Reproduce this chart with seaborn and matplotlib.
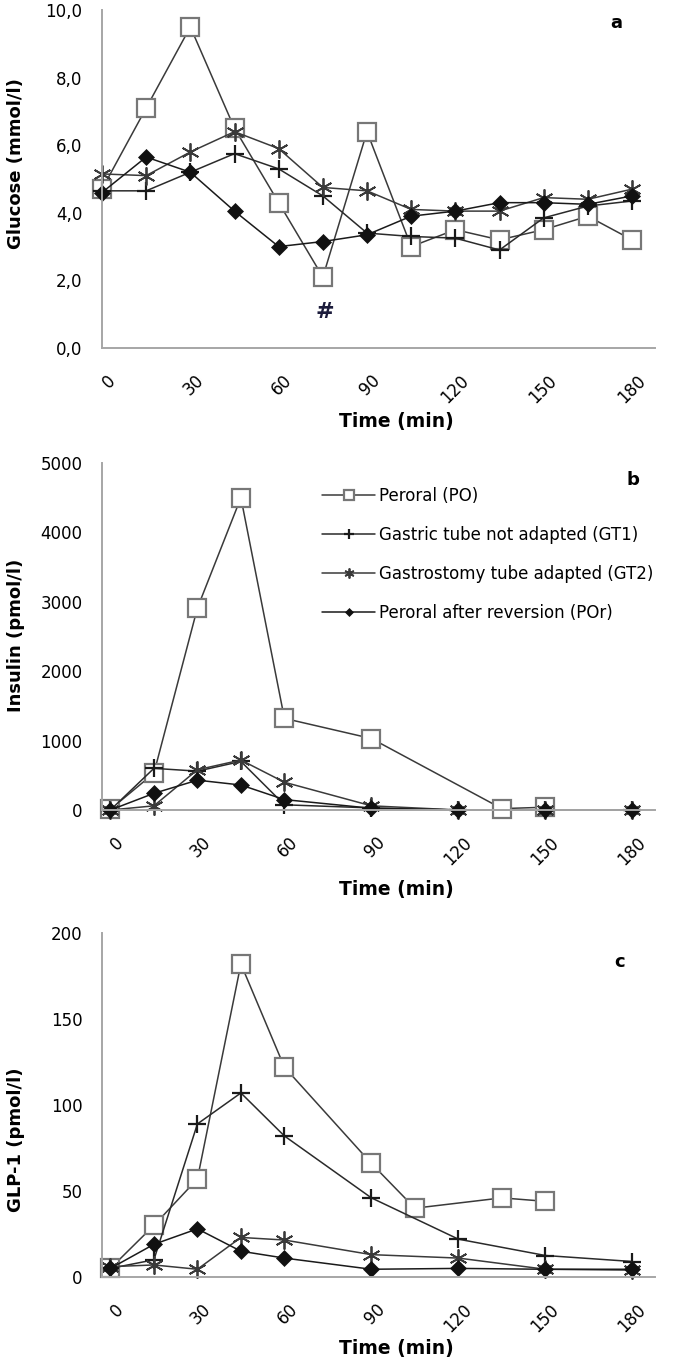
import matplotlib
matplotlib.use("Agg")
import numpy as np
import pandas as pd
import seaborn as sns
import matplotlib.pyplot as plt
from matplotlib.transforms import ScaledTranslation

sns.set_style("white")
plt.rcParams["font.family"] = ["DejaVu Sans"]
plt.rcParams["text.color"] = "black"
plt.rcParams["axes.labelcolor"] = "black"
plt.rcParams["xtick.color"] = "black"
plt.rcParams["ytick.color"] = "black"

# ---------------- data ----------------
series_names = ["Peroral (PO)", "Gastric tube not adapted (GT1)",
                "Gastrostomy tube adapted (GT2)", "Peroral after reversion (POr)"]

# (a) Glucose (mmol/l)
glucose_time = [0, 15, 30, 45, 60, 75, 90, 105, 120, 135, 150, 165, 180]
glucose_po = [4.7, 7.1, 9.5, 6.5, 4.3, 2.1, 6.4, 3.0, 3.5, 3.2, 3.5, 3.9, 3.2]
glucose_gt1 = [4.65, 4.65, 5.2, 5.75, 5.3, 4.5, 3.4, 3.3, 3.25, 2.9, 3.85, 4.2, 4.35]
glucose_gt2 = [5.15, 5.1, 5.8, 6.4, 5.9, 4.75, 4.65, 4.1, 4.05, 4.05, 4.45, 4.4, 4.7]
glucose_por = [4.6, 5.65, 5.2, 4.05, 3.0, 3.15, 3.35, 3.9, 4.05, 4.3, 4.3, 4.25, 4.5]
glucose_ticks = [0, 2, 4, 6, 8, 10]
glucose_ticklabels = ["0,0", "2,0", "4,0", "6,0", "8,0", "10,0"]

# (b) Insulin (pmol/l)
insulin_time_po = [0, 15, 30, 45, 60, 90, 135, 150]
insulin_po = [10, 530, 2910, 4500, 1320, 1030, 20, 40]
insulin_time = [0, 15, 30, 45, 60, 90, 120, 150, 180]
insulin_gt1 = [0, 600, 560, 700, 75, 30, 0, 0, 0]
insulin_gt2 = [0, 60, 580, 720, 400, 60, 0, 0, 0]
insulin_por = [0, 240, 430, 360, 150, 25, 0, 0, 0]
insulin_ticks = [0, 1000, 2000, 3000, 4000, 5000]

# (c) GLP-1 (pmol/l)
glp_time_po = [0, 15, 30, 45, 60, 90, 105, 135, 150]
glp_po = [5, 30, 57, 182, 122, 66, 40, 46, 44]
glp_time = [0, 15, 30, 45, 60, 90, 120, 150, 180]
glp_gt1 = [5, 10, 89, 107, 82, 46, 22, 12.5, 9]
glp_gt2 = [6, 7, 4.5, 23, 21.5, 13, 11, 4.5, 4]
glp_por = [5, 19, 28, 15, 11, 4.5, 5, 4.5, 4.5]
glp_ticks = [0, 50, 100, 150, 200]

time_ticks = [0, 30, 60, 90, 120, 150, 180]

# ---------------- styles ----------------
styles = {
    "PO": dict(marker="s", markersize=12.5, markerfacecolor="white",
               markeredgecolor="#777777", markeredgewidth=1.6, color="#3a3a3a"),
    "GT1": dict(marker="+", markersize=13, markeredgecolor="#1a1a1a",
                markeredgewidth=1.6, color="#2a2a2a"),
    "GT2": dict(marker=(6, 2, 0), markersize=13, markeredgecolor="#3a3a3a",
                markeredgewidth=1.3, color="#3a3a3a"),
    "POr": dict(marker="D", markersize=8, markerfacecolor="#111111",
                markeredgecolor="#111111", markeredgewidth=0.5, color="#1a1a1a"),
}


def draw(ax, t, v, key, label=None):
    sns.lineplot(x=t, y=v, ax=ax, linewidth=1.1, clip_on=False, legend=False,
                 errorbar=None, label=label, **styles[key])


fig = plt.figure(figsize=(6.83, 13.64), dpi=100)
FW, FH = 683, 1364
L, R = 102, 655


def axes_box(top, bottom):
    return [L / FW, 1 - bottom / FH, (R - L) / FW, (bottom - top) / FH]


ax_a = fig.add_axes(axes_box(10, 348))
ax_b = fig.add_axes(axes_box(463, 810))
ax_c = fig.add_axes(axes_box(933, 1277))

# panel a
draw(ax_a, glucose_time, glucose_po, "PO")
draw(ax_a, glucose_time, glucose_gt1, "GT1")
draw(ax_a, glucose_time, glucose_gt2, "GT2")
draw(ax_a, glucose_time, glucose_por, "POr")
ax_a.set_xlim(0, 187.8)
ax_a.set_ylim(0, 10)
ax_a.set_yticks(glucose_ticks)
ax_a.set_yticklabels(glucose_ticklabels)
ax_a.text(75.5, 1.07, "#", ha="center", va="center", fontsize=16,
          fontweight="bold", color="#1c1c3c")

# panel b
draw(ax_b, insulin_time_po, insulin_po, "PO", series_names[0])
draw(ax_b, insulin_time, insulin_gt1, "GT1", series_names[1])
draw(ax_b, insulin_time, insulin_gt2, "GT2", series_names[2])
draw(ax_b, insulin_time, insulin_por, "POr", series_names[3])
ax_b.set_xlim(-2.9, 187.8)
ax_b.set_ylim(0, 5000)
ax_b.set_yticks(insulin_ticks)
ax_b.set_yticklabels([str(v) for v in insulin_ticks])

# panel c
draw(ax_c, glp_time_po, glp_po, "PO")
draw(ax_c, glp_time, glp_gt1, "GT1")
draw(ax_c, glp_time, glp_gt2, "GT2")
draw(ax_c, glp_time, glp_por, "POr")
ax_c.set_xlim(-2.9, 187.8)
ax_c.set_ylim(0, 200)
ax_c.set_yticks(glp_ticks)
ax_c.set_yticklabels([str(v) for v in glp_ticks])

offset = ScaledTranslation(17 / 100, 0, fig.dpi_scale_trans)
ylabels = ["Glucose (mmol/l)", "Insulin (pmol/l)", "GLP-1 (pmol/l)"]
ylabel_y = [0.547, 0.504, 0.40]
xlabel_y = [-0.189, -0.202, -0.180]
for ax, yl, yy, xy in zip([ax_a, ax_b, ax_c], ylabels, ylabel_y, xlabel_y):
    sns.despine(ax=ax)
    for side in ["left", "bottom"]:
        ax.spines[side].set_color("#a6a6a6")
        ax.spines[side].set_linewidth(1.4)
    ax.set_xticks(time_ticks)
    ax.set_xticklabels([str(t) for t in time_ticks])
    ax.tick_params(axis="y", length=0, pad=14, labelsize=12, labelcolor="black")
    ax.tick_params(axis="x", length=0, pad=17, labelsize=12, labelcolor="black")
    for lab in ax.get_xticklabels():
        lab.set_rotation(45)
        lab.set_ha("right")
        lab.set_va("top")
        lab.set_transform(lab.get_transform() + offset)
    ax.set_ylabel(yl, fontsize=13, fontweight="bold", color="black")
    ax.yaxis.set_label_coords(-0.14, yy)
    ax.set_xlabel("Time (min)", fontsize=13.5, fontweight="bold", color="black")
    ax.xaxis.set_label_coords(0.532, xy)
    ax.grid(False)

# legend in panel b
h, l = ax_b.get_legend_handles_labels()
leg = ax_b.legend(h, l, loc="upper left", bbox_to_anchor=(322 / FW, 1 - 487 / FH),
                  bbox_transform=fig.transFigure, frameon=False, fontsize=12,
                  handlelength=3.2, handletextpad=0.2, labelspacing=1.25,
                  borderpad=0, borderaxespad=0)
for hh in leg.legend_handles:
    hh.set_markersize(hh.get_markersize() * 0.55)
for txt in leg.get_texts():
    txt.set_color("black")

# panel letters
fig.text(616 / FW, 1 - 23 / FH, "a", ha="center", va="center", fontsize=13, fontweight="bold")
fig.text(633 / FW, 1 - 480 / FH, "b", ha="center", va="center", fontsize=13, fontweight="bold")
fig.text(620 / FW, 1 - 962 / FH, "c", ha="center", va="center", fontsize=13, fontweight="bold")

fig.savefig("out.png", dpi=100)
